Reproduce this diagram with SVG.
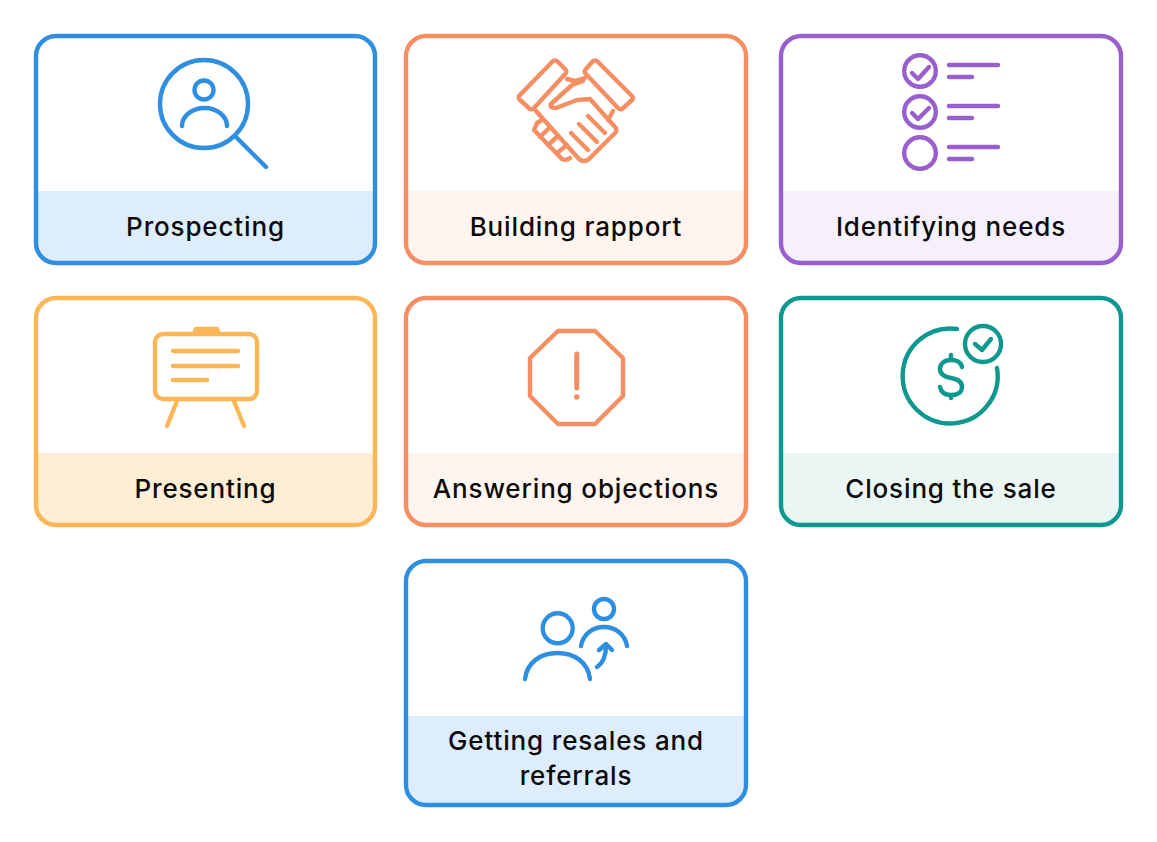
<svg xmlns="http://www.w3.org/2000/svg" width="1157" height="842" viewBox="0 0 1157 842">
<style>
.card{fill:none;stroke-width:4.400}
.ic{fill:none;stroke-width:4.400;stroke-linecap:round;stroke-linejoin:round}
.t{font-family:"Inter","Liberation Sans",sans-serif;font-size:26px;font-weight:500;letter-spacing:.85px;fill:#0b0b0b;text-anchor:middle}
.b{stroke:#2e8fe1}.o{stroke:#f58f63}.p{stroke:#9a5fcf}.y{stroke:#fbb655}.g{stroke:#0e9890}
</style>
<rect width="1157" height="842" fill="#fff"/>
<g id="prospecting">
<path d="M36 191H375V243a20 20 0 0 1-20 20H56a20 20 0 0 1-20-20Z" fill="#deedfd"/>
<rect class="card b" x="36" y="36" width="339" height="227" rx="20"/>
<g class="ic b"><circle cx="204" cy="104" r="44"/><circle cx="204" cy="90" r="9.500"/><path d="M182 126a22.500 18 0 0 1 45 0M237 138L266 167"/></g>
<text class="t" x="205.500" y="236">Prospecting</text>
</g>
<g id="building-rapport">
<path d="M406 191H746V243a20 20 0 0 1-20 20H426a20 20 0 0 1-20-20Z" fill="#fff4ee"/>
<rect class="card o" x="406" y="36" width="340" height="227" rx="20"/>
<g class="ic o">
<path d="M553 61L519 96Q518 98 520 100L530 109Q532 110 534 108L566 73Q567 71 565 69L557 61Q555 60 553 61Z"/>
<path d="M597 61L632 96Q634 98 632 100L622 109Q620 110 618 108L585 73Q584 71 586 69L593 61Q595 60 597 61Z"/>
<path d="M567 79L575 81L585 78M536 111L579 159Q584 163 589 159L616 132Q617 129 615 127L590 99L577 100L556 108Q549 108 551 104L572 85L583 81M613 111L608 120"/>
<path d="M588 116L605 133M579 124L597 142M571 133L588 150"/>
<path d="M537 123L534 130L562 159Q566 161 570 158M537 123L542 120M540 137L550 127M548 145L558 136M557 153L567 145"/>
</g>
<text class="t" x="576" y="236">Building rapport</text>
</g>
<g id="identifying-needs">
<path d="M781 191H1121V243a20 20 0 0 1-20 20H801a20 20 0 0 1-20-20Z" fill="#f5f0fb"/>
<rect class="card p" x="781" y="36" width="340" height="227" rx="20"/>
<g class="ic p"><circle cx="920" cy="71" r="15.800"/><circle cx="920" cy="112" r="15.800"/><circle cx="920" cy="153" r="15.800"/><path d="M912 73L918 79L929 67M912 113L918 119L929 108M949 65H998M949 77H972M949 106H998M949 118H972M949 147H998M949 159H972"/></g>
<text class="t" x="951" y="236">Identifying needs</text>
</g>
<g id="presenting">
<path d="M36 453H375V505a20 20 0 0 1-20 20H56a20 20 0 0 1-20-20Z" fill="#feeed5"/>
<rect class="card y" x="36" y="298" width="339" height="227" rx="20"/>
<g class="ic y"><rect x="155" y="334" width="102" height="65" rx="8"/><path d="M195 331L196 329H217L218 331Z" fill="#fbb655"/><path d="M173 351H238M173 366H238M173 380H207M177 401L167 426M234 401L244 426"/></g>
<text class="t" x="205.500" y="498">Presenting</text>
</g>
<g id="answering-objections">
<path d="M406 453H746V505a20 20 0 0 1-20 20H426a20 20 0 0 1-20-20Z" fill="#fff4ee"/>
<rect class="card o" x="406" y="298" width="340" height="227" rx="20"/>
<g class="ic o"><path d="M558 331H595L623 358V396L595 424H558L530 396V358Z"/><path d="M576.700 354V388" stroke-width="5"/><circle cx="576.700" cy="397" r="2.800" fill="#f58f63" stroke="none"/></g>
<text class="t" x="576" y="498">Answering objections</text>
</g>
<g id="closing-the-sale">
<path d="M781 453H1121V505a20 20 0 0 1-20 20H801a20 20 0 0 1-20-20Z" fill="#e9f6f4"/>
<rect class="card g" x="781" y="298" width="340" height="227" rx="20"/>
<g class="ic g"><path d="M957 329A47.500 47.500 0 1 0 997 368"/><circle cx="983" cy="344" r="18"/><path d="M975 344L982 350L991 339M962 367C961 362 957 360 951 360C944 360 940 364 940 369C940 375 945 377 951 378C957 379 962 381 962 387C962 392 958 395 951 395C945 395 941 392 940 387M951 355V360M951 395V398"/></g>
<text class="t" x="951" y="498">Closing the sale</text>
</g>
<g id="getting-resales-and-referrals">
<path d="M406 716H746V785a20 20 0 0 1-20 20H426a20 20 0 0 1-20-20Z" fill="#deedfd"/>
<rect class="card b" x="406" y="561" width="340" height="244" rx="20"/>
<g class="ic b"><circle cx="557.700" cy="628.300" r="15"/><circle cx="604" cy="609" r="10"/><path d="M525 679C527 662 541 653 557.500 653C574 653 588 662 590 679M581 646C583 634 593 627 604 627C615 627 625 634 627 646M597 667C603 663 606 656 606 646M599 650L606 644L612 650"/></g>
<text class="t"><tspan x="576" y="750">Getting resales and</tspan><tspan x="576" y="785">referrals</tspan></text>
</g>
<g id="connectors"/>
</svg>
